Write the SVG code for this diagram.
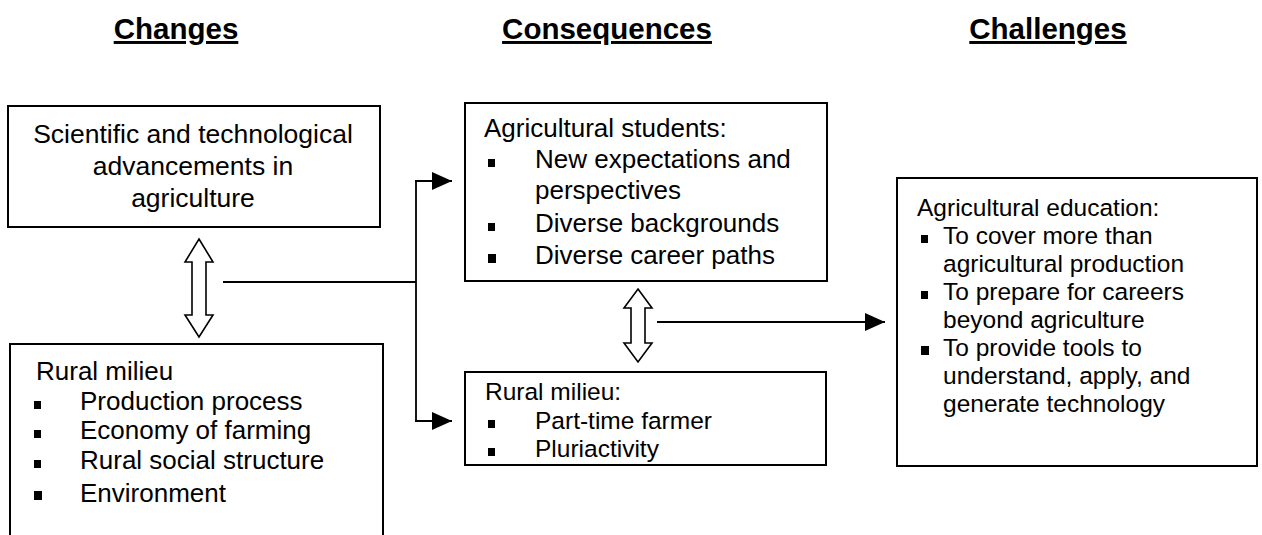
<svg xmlns="http://www.w3.org/2000/svg" width="1262" height="535" viewBox="0 0 1262 535">
<style>
.t{font-family:"Liberation Sans",Arial,sans-serif;font-size:26px;fill:#000}
.c{font-size:26.5px}
.s{font-size:24.5px}
.h{font-family:"Liberation Sans",Arial,sans-serif;font-size:29.5px;font-weight:bold;fill:#000;text-decoration:underline}
.box{fill:#fff;stroke:#000;stroke-width:2}
.dbl{fill:#fff;stroke:#000;stroke-width:1.6}
.ln{fill:none;stroke:#000;stroke-width:1.8}
.b{fill:#000}
</style>
<defs>
<marker id="ah" markerUnits="userSpaceOnUse" markerWidth="22" markerHeight="20" refX="20" refY="10" orient="auto">
<path d="M0,1 L20,10 L0,19 Z" fill="#000"/>
</marker>
</defs>
<rect width="1262" height="535" fill="#fff"/>
<g id="titles">
<text class="h" x="176" y="39" text-anchor="middle">Changes</text>
<text class="h" x="607" y="39" text-anchor="middle">Consequences</text>
<text class="h" x="1048" y="39" text-anchor="middle">Challenges</text>
</g>
<g id="connectors">
<path class="ln" d="M223,282 H416 M416,181 V421"/>
<path class="ln" d="M415,181 H452" marker-end="url(#ah)"/>
<path class="ln" d="M415,421 H452" marker-end="url(#ah)"/>
<path class="ln" d="M657,322 H885" marker-end="url(#ah)"/>
<path class="dbl" d="M199,239 L213,262 L206,262 L206,315 L213,315 L199,337 L185,315 L192,315 L192,262 L185,262 Z"/>
<path class="dbl" d="M638,289 L652,308 L645,308 L645,343 L652,343 L638,362 L624,343 L631,343 L631,308 L624,308 Z"/>
</g>
<g id="n1">
<rect class="box" x="8" y="106" width="372" height="121"/>
<text class="t c" x="193" y="143" text-anchor="middle">Scientific and technological</text>
<text class="t c" x="193" y="175" text-anchor="middle">advancements in</text>
<text class="t c" x="193" y="207" text-anchor="middle">agriculture</text>
</g>
<g id="n2">
<rect class="box" x="10" y="344" width="373" height="200"/>
<text class="t" x="36" y="380">Rural milieu</text>
<rect class="b" x="34" y="401" width="7" height="8"/>
<text class="t" x="80" y="410">Production process</text>
<rect class="b" x="34" y="430" width="7" height="8"/>
<text class="t" x="80" y="439">Economy of farming</text>
<rect class="b" x="34" y="460" width="7" height="8"/>
<text class="t" x="80" y="469">Rural social structure</text>
<rect class="b" x="34" y="491" width="8" height="9"/>
<text class="t" x="80" y="502">Environment</text>
</g>
<g id="n3">
<rect class="box" x="465" y="103" width="362" height="178"/>
<text class="t" x="484" y="137">Agricultural students:</text>
<rect class="b" x="488" y="159" width="7" height="8"/>
<text class="t" x="535" y="168">New expectations and</text>
<text class="t" x="535" y="199">perspectives</text>
<rect class="b" x="488" y="223" width="7" height="8"/>
<text class="t" x="535" y="232">Diverse backgrounds</text>
<rect class="b" x="488" y="254" width="8" height="9"/>
<text class="t" x="535" y="264">Diverse career paths</text>
</g>
<g id="n4">
<rect class="box" x="465" y="372" width="361" height="93"/>
<text class="t s" x="485" y="400">Rural milieu:</text>
<rect class="b" x="488" y="420" width="7" height="8"/>
<text class="t s" x="535" y="429">Part-time farmer</text>
<rect class="b" x="488" y="448" width="7" height="8"/>
<text class="t s" x="535" y="457">Pluriactivity</text>
</g>
<g id="n5">
<rect class="box" x="897" y="178" width="360" height="288"/>
<text class="t s" x="917" y="216">Agricultural education:</text>
<rect class="b" x="921" y="235" width="7" height="8"/>
<text class="t s" x="943" y="244">To cover more than</text>
<text class="t s" x="943" y="272">agricultural production</text>
<rect class="b" x="921" y="291" width="7" height="8"/>
<text class="t s" x="943" y="300">To prepare for careers</text>
<text class="t s" x="943" y="328">beyond agriculture</text>
<rect class="b" x="921" y="346" width="8" height="9"/>
<text class="t s" x="943" y="356">To provide tools to</text>
<text class="t s" x="943" y="384">understand, apply, and</text>
<text class="t s" x="943" y="412">generate technology</text>
</g>
</svg>
